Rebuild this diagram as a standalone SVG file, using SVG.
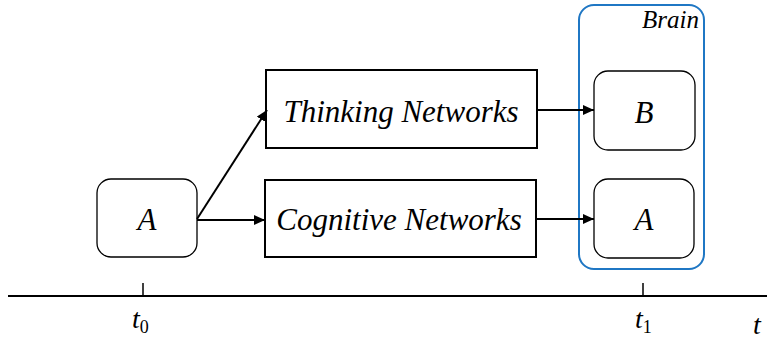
<svg xmlns="http://www.w3.org/2000/svg" width="767" height="340" viewBox="0 0 767 340">
<style>
text{font-family:'Liberation Serif','Times New Roman','DejaVu Serif',serif;font-style:italic;fill:#000}
.rbox{fill:#fff;stroke:#000;stroke-width:1.3}
.sbox{fill:#fff;stroke:#000;stroke-width:2}
.conn{stroke:#000;stroke-width:2;fill:none}
</style>
<defs>
<marker id="arr" markerWidth="11" markerHeight="10" refX="11" refY="5" orient="auto" markerUnits="userSpaceOnUse">
<path d="M0,0 L11,5 L0,10 Z" fill="#000"/>
</marker>
</defs>
<rect width="767" height="340" fill="#fff"/>
<g id="brain">
<rect x="579" y="5" width="125" height="264" rx="15" fill="none" stroke="#1f77c4" stroke-width="2"/>
<text x="699" y="28" font-size="25" text-anchor="end">Brain</text>
</g>
<g id="nodeA">
<rect class="rbox" x="97" y="179" width="100" height="78" rx="14"/>
<text x="147" y="230" font-size="31" text-anchor="middle">A</text>
</g>
<g id="thinking">
<rect class="sbox" x="266" y="70" width="271" height="78"/>
<text x="401" y="122" font-size="31" text-anchor="middle">Thinking Networks</text>
</g>
<g id="cognitive">
<rect class="sbox" x="265" y="180" width="271" height="77"/>
<text x="399" y="230" font-size="31" text-anchor="middle">Cognitive Networks</text>
</g>
<g id="nodeB">
<rect class="rbox" x="594" y="71" width="101" height="79" rx="14"/>
<text x="644" y="123" font-size="31" text-anchor="middle">B</text>
</g>
<g id="nodeA2">
<rect class="rbox" x="594" y="179" width="100" height="79" rx="14"/>
<text x="644" y="230" font-size="31" text-anchor="middle">A</text>
</g>
<g id="connectors">
<line class="conn" x1="197" y1="219" x2="267" y2="110" marker-end="url(#arr)"/>
<line class="conn" x1="197" y1="220" x2="265" y2="220" marker-end="url(#arr)"/>
<line class="conn" x1="537" y1="110" x2="594" y2="110" marker-end="url(#arr)"/>
<line class="conn" x1="536" y1="219" x2="594" y2="219" marker-end="url(#arr)"/>
</g>
<g id="axis">
<line x1="8" y1="296" x2="767" y2="296" stroke="#000" stroke-width="2"/>
<line x1="143" y1="283" x2="143" y2="296" stroke="#000" stroke-width="1.5"/>
<line x1="643" y1="283" x2="643" y2="296" stroke="#000" stroke-width="1.5"/>
<text x="132" y="328" font-size="28">t<tspan font-style="normal" font-size="18" dy="5">0</tspan></text>
<text x="635" y="328" font-size="28">t<tspan font-style="normal" font-size="18" dy="5">1</tspan></text>
<text x="753" y="334" font-size="28">t</text>
</g>
</svg>
